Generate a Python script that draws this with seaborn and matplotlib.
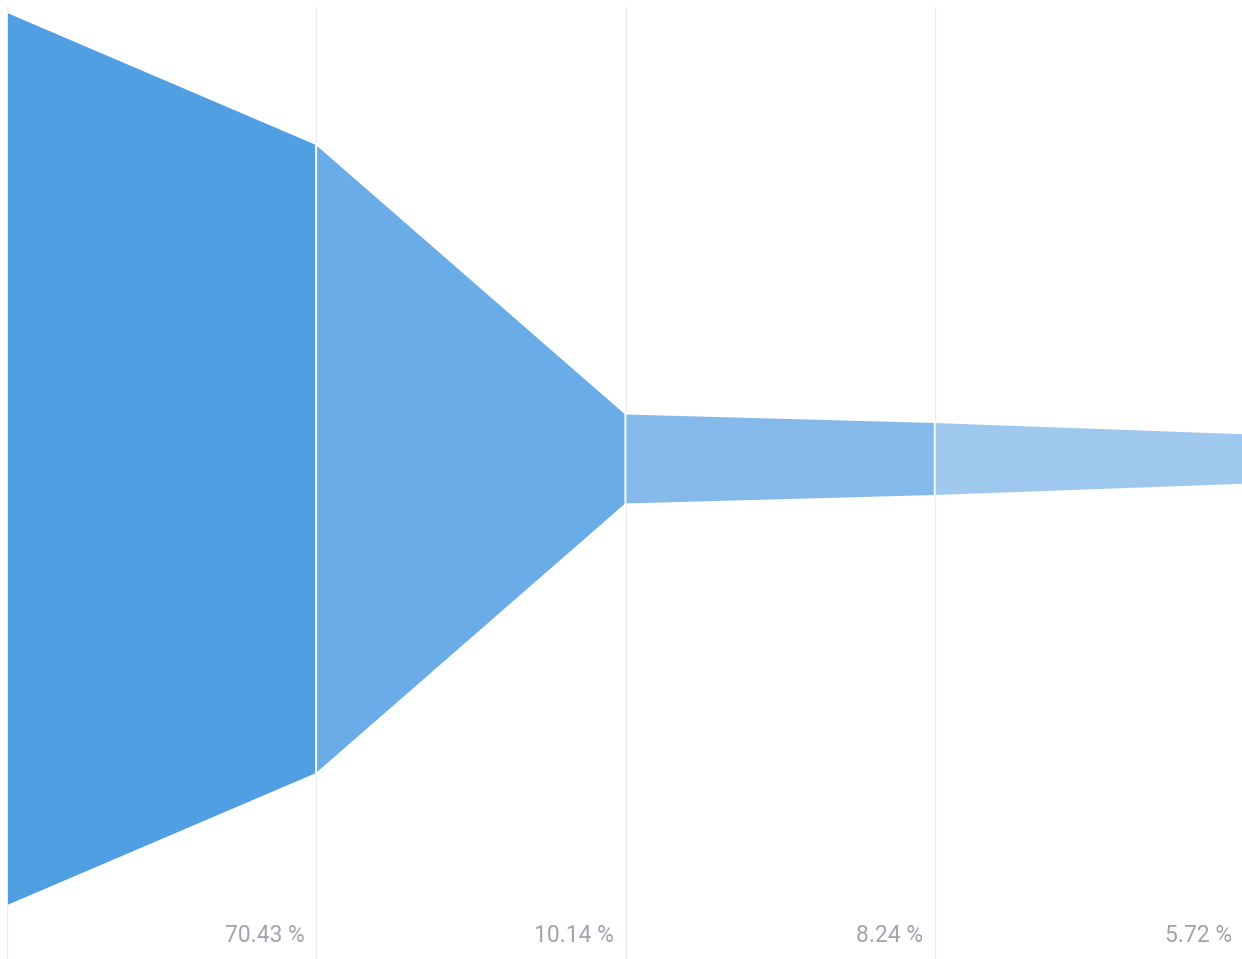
import numpy as np
import seaborn as sns
import matplotlib.pyplot as plt

# funnel widths at each step boundary (percent of first step)
steps = [0, 1, 2, 3, 4]
widths = [100.0, 70.43, 10.14, 8.24, 5.72]
labels = ["70.43 %", "10.14 %", "8.24 %", "5.72 %"]
colors = ["#519fe3", "#6aace7", "#85b9ea", "#9fc8ee"]

sns.set_style("white")
plt.rcParams['font.family'] = ['Roboto', 'DejaVu Sans']

fig = plt.figure(figsize=(12.42, 9.59), dpi=100)
ax = fig.add_axes([7 / 1242, 0, 1237 / 1242, 952 / 959])

for i in range(len(labels)):
    x0, x1 = steps[i], steps[i + 1]
    w0, w1 = widths[i] / 2, widths[i + 1] / 2
    ax.fill([x0, x1, x1, x0], [w0, w1, -w1, -w0], facecolor=colors[i],
            edgecolor="white", linewidth=1.2, zorder=2)
    ax.text(x1 - 0.038, -53.3, labels[i], ha="right", va="center",
            fontsize=16.5, color="#9ea4b0", zorder=3)

ax.set_xlim(0, 4)
ax.set_ylim(-500 / 8.94, 452 / 8.94)
ax.set_xticks(steps)
ax.set_yticks([])
ax.tick_params(axis="x", length=0, labelbottom=False)
ax.grid(axis="x", color="#ebebeb", linewidth=1, zorder=0)
ax.grid(axis="y", visible=False)
sns.despine(ax=ax, left=True, bottom=True, top=True, right=True)

fig.savefig("out.png", dpi=100, facecolor="white")
